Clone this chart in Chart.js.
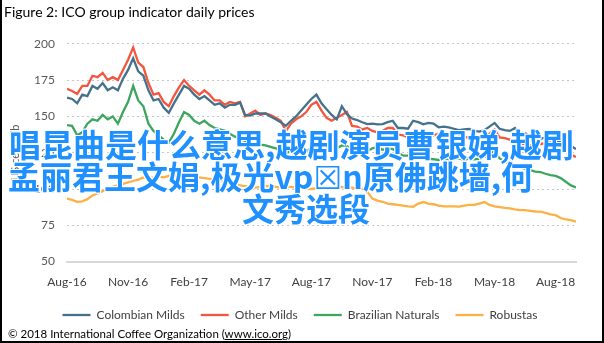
<!DOCTYPE html>
<html>
<head>
<meta charset="utf-8">
<script src="https://cdn.jsdelivr.net/npm/chart.js@4.4.0/dist/chart.umd.min.js"></script>
<style>
  html, body { margin: 0; padding: 0; background: #fff; }
  #wrap { position: relative; width: 604px; height: 343px; overflow: hidden; }
  #chart { position: absolute; left: 0; top: 0; }
  #frame { position: absolute; left: 0; top: 0; width: 604px; height: 343px; box-sizing: border-box;
           border: 2px solid #000; border-top: none; pointer-events: none; }
  #footer { position: absolute; left: 8px; top: 327px; font: 11.5px 'Liberation Sans Narrow', Lato, sans-serif; color: #000; }
  #footer span { text-decoration: underline; }
  .spam { position: absolute; font: bold 32px/32px 'Noto Sans CJK SC', sans-serif; color: #1e90ff; white-space: nowrap;
          text-shadow: 1px 1px 0 #fff, -1px -1px 0 #fff, 1px -1px 0 #fff, -1px 1px 0 #fff; }
  .spam b { font-family: 'DejaVu Sans', sans-serif; font-weight: normal; }
</style>
</head>
<body>
<div id="wrap">
  <canvas id="chart" width="604" height="343"></canvas>
  <div id="footer">© 2018 International Coffee Organization (<span>www.ico.org</span>)</div>
  <div class="spam" style="left:9px;top:127px">唱昆曲是什么意思,越剧演员曹银娣,越剧</div>
  <div class="spam" style="left:8px;top:159px">孟丽君王文娟,极光vp<b>☒</b>n原佛跳墙,何</div>
  <div class="spam" style="left:242px;top:191px">文秀选段</div>
  <div id="frame"></div>
</div>
<script>
// x positions: months since Aug-16, one reading every quarter month
const months = Array.from({ length: 101 }, (_, i) => i * 0.25);
const tickLabels = ['Aug-16', 'Nov-16', 'Feb-17', 'May-17', 'Aug-17', 'Nov-17', 'Feb-18', 'May-18', 'Aug-18'];
const seriesNames = ['Colombian Milds', 'Other Milds', 'Brazilian Naturals', 'Robustas'];
const seriesColors = ['#44728a', '#f4553f', '#3ea55e', '#fdb044'];

// prices in US cents/lb
const colombianMilds = [
  163, 162, 159, 165, 164, 171, 169, 173, 168, 170,
  168, 176, 182, 190, 181, 178, 168, 161, 162, 156,
  152.5, 159, 165, 171, 169, 165, 162, 164, 161, 158,
  159, 156, 158, 158, 159.5, 151, 150.5, 152, 152, 152,
  150, 148, 146, 143.5, 147, 150, 154, 158, 162, 165,
  159, 155, 151, 148, 157, 151.5, 148.5, 147.5, 146, 144.7,
  145, 144.5, 144.7, 146, 147, 142, 142, 141.5, 147, 146,
  144.5, 145.5, 145, 142.5, 143, 142.5, 141.5, 140.5, 141, 141.3,
  140, 139.5, 140.5, 143, 145.5, 141.5, 140.5, 140, 142, 137,
  138.5, 136, 135, 134.5, 135.5, 135.5, 134, 132, 130.5, 129.5,
  127.5
];
const otherMilds = [
  169, 167.5, 165.5, 171, 171, 178, 177, 180, 175, 177,
  175, 182, 189, 197.5, 187, 184, 173, 165, 166, 160,
  157, 164, 170, 175, 171, 168, 165, 168, 165, 161,
  161, 158, 160, 159, 160, 150, 152, 154, 151, 152,
  151, 149, 147, 140, 145, 148, 150, 153, 158, 160,
  154, 149, 147, 149, 151, 153, 143.5, 143, 141, 142,
  140, 139, 140, 142, 142, 137.5, 137, 135.5, 138, 136.5,
  137, 139, 137, 138, 136, 136.5, 135, 136, 135.5, 135.5,
  136, 135.5, 136, 138, 141, 135.5, 135, 134, 132.5, 131.5,
  131, 130, 129.5, 131, 131.5, 132, 130, 129.5, 126, 123.5,
  122
];
const brazilianNaturals = [
  144, 143.5, 137, 139, 145, 148, 147, 151, 148, 150,
  145, 153, 160, 171, 161, 157, 145, 140, 137, 134,
  132, 138, 146, 153, 151, 147, 145, 147, 144, 142,
  141, 140, 138, 136, 135, 133, 132, 131, 130.5, 130,
  129, 128, 126, 124, 127, 128, 124, 126, 128, 131,
  132, 129, 127.5, 128, 130, 129.5, 127, 127.5, 128, 126,
  128, 129, 127, 128, 127.5, 125, 123, 123, 123.5, 122.5,
  121, 120.8, 120.5, 120, 121, 120.5, 121, 121, 120, 121,
  120.5, 120.8, 122, 124, 126.4, 121, 119, 117, 115.5, 115,
  114, 113, 112, 111.7, 110.5, 109.5, 109, 107.5, 105, 102.5,
  101
];
const robustas = [
  93.4, 92.5, 91.2, 91.5, 93, 95.5, 97, 98.5, 99.5, 101.5,
  102.5, 103.5, 104.5, 105.5, 106.5, 108, 107.5, 108, 108.5, 108,
  109, 109.5, 109, 109.5, 109, 108.5, 108, 107.5, 107, 106.5,
  106, 106, 104.5, 103, 102.5, 102, 101.5, 101, 101.5, 102,
  102, 101.5, 101, 101.5, 101.4, 101, 100.5, 100.3, 100, 100.5,
  100.3, 100.5, 101, 100.5, 101.4, 101, 101, 100.5, 100.3, 98,
  93.4, 92, 91.2, 90, 89.5, 89, 88.5, 88, 87.8, 90,
  91, 90, 89.5, 88.5, 88, 88, 88, 87.8, 88.5, 89,
  89, 90, 91, 89, 88, 87.5, 87, 86.6, 86, 85.5,
  85.5, 85, 84.5, 84.4, 83.5, 82.5, 82, 80, 79, 78.6,
  77.5
];

const allSeries = [colombianMilds, otherMilds, brazilianNaturals, robustas];

const datasets = allSeries.map((values, i) => ({
  label: seriesNames[i],
  data: values.map((v, j) => ({ x: months[j], y: v })),
  borderColor: seriesColors[i],
  backgroundColor: seriesColors[i],
  borderWidth: 2.3,
  pointRadius: 0,
  tension: 0
}));

// move the legend: a bit right (centred on the page) and up, closer to the axis
const shiftLegend = {
  id: 'shiftLegend',
  afterLayout(chart) {
    chart.legend.left += 10;
    chart.legend.right += 10;
    chart.legend.top -= 9;
    chart.legend.bottom -= 9;
  }
};

const ctx = document.getElementById('chart').getContext('2d');

new Chart(ctx, {
  type: 'line',
  data: { datasets },
  plugins: [shiftLegend],
  options: {
    responsive: false,
    animation: false,
    layout: { padding: { left: 4, right: 28, top: 0, bottom: 3 } },
    plugins: {
      title: {
        display: true,
        text: 'Figure 2: ICO group indicator daily prices',
        align: 'start',
        color: '#000',
        font: { family: "'Liberation Sans Narrow', Lato, sans-serif", size: 14, weight: 'normal' },
        padding: { top: 4, bottom: 23 }
      },
      legend: {
        position: 'bottom',
        labels: {
          usePointStyle: true,
          pointStyle: 'line',
          pointStyleWidth: 28,
          padding: 16,
          color: '#404040',
          font: { family: 'Lato', size: 12 }
        }
      },
      tooltip: { enabled: false }
    },
    scales: {
      x: {
        type: 'linear',
        min: 0,
        max: 25,
        afterBuildTicks: scale => {
          scale.ticks = tickLabels.map((_, i) => ({ value: i * 3 }));
        },
        ticks: {
          callback: v => tickLabels[Math.round(v / 3)],
          maxRotation: 0,
          autoSkip: false,
          padding: 13,
          color: '#404040',
          font: { family: 'Lato', size: 12 }
        },
        grid: { display: false, drawTicks: false },
        border: { display: true, color: '#d9d9d9', width: 2 }
      },
      y: {
        min: 50,
        max: 200,
        ticks: {
          stepSize: 25,
          padding: 12,
          color: '#595959',
          font: { family: 'Lato', size: 12 }
        },
        grid: {
          drawTicks: false,
          color: c => (c.tick && c.tick.value === 50) ? 'rgba(0,0,0,0)' : '#c6c6c6'
        },
        border: { display: false, dash: [2, 3] },
        title: {
          display: true,
          text: 'US cents/lb',
          color: '#595959',
          font: { family: 'Lato', size: 11 },
          padding: { top: 5, bottom: 0 }
        },
        afterFit: scale => { scale.width = 63; }
      }
    }
  }
});
</script>
</body>
</html>
